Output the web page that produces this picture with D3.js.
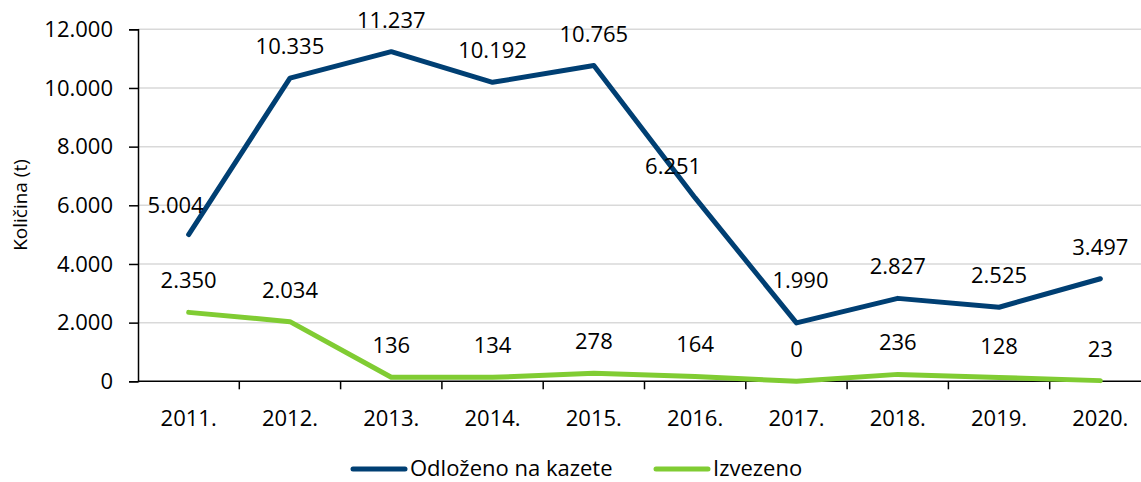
<!DOCTYPE html>
<html>
<head>
<meta charset="utf-8">
<script src="https://cdn.jsdelivr.net/npm/d3@7"></script>
<style>
  body { margin: 0; background: #fff; }
  svg { display: block; font-family: "Open Sans", "Noto Sans", sans-serif; }
</style>
</head>
<body>
<div id="chart"></div>
<script>
const years = ["2011.", "2012.", "2013.", "2014.", "2015.", "2016.", "2017.", "2018.", "2019.", "2020."];
const odlozeno = [5004, 10335, 11237, 10192, 10765, 6251, 1990, 2827, 2525, 3497];
const izvezeno = [2350, 2034, 136, 134, 278, 164, 0, 236, 128, 23];
const yTicks = [0, 2000, 4000, 6000, 8000, 10000, 12000];

function chart() {
    const width = 1141;
    const height = 482;
    const fs = 22;
    const fmt = v => d3.format(",")(v).replace(/,/g, ".");

    const x = d3.scaleBand().domain(years).range([138, 1151]);
    const y = d3.scaleLinear().domain([0, 12000]).range([381.3, 29.3]);

    const svg = d3.create("svg")
        .attr("width", width)
        .attr("height", height)
        .attr("viewBox", [0, 0, width, height]);

    // gridlines
    svg.append("g")
        .attr("stroke", "#d9d9d9")
        .attr("stroke-width", 1.5)
        .selectAll()
        .data(yTicks.slice(1))
        .join("line")
        .attr("x1", 138).attr("x2", 1151)
        .attr("y1", d => y(d)).attr("y2", d => y(d));

    // y axis
    const yAxis = svg.append("g")
        .attr("transform", "translate(138,0)")
        .call(d3.axisLeft(y).tickValues(yTicks).tickFormat(fmt).tickSize(9).tickPadding(16));
    yAxis.select(".domain").attr("stroke", "#000").attr("stroke-width", 1.5);
    yAxis.selectAll(".tick line").attr("stroke", "#000").attr("stroke-width", 1.5);
    yAxis.selectAll("text").attr("font-size", fs).attr("fill", "#000")
        .attr("font-family", "'Open Sans', sans-serif");

    // x axis with ticks at band boundaries
    const xAxis = svg.append("g").attr("transform", `translate(0,${y(0)})`);
    xAxis.append("line")
        .attr("x1", 138).attr("x2", 1151)
        .attr("stroke", "#000").attr("stroke-width", 1.5);
    xAxis.selectAll(".bt")
        .data(years.slice(1))
        .join("line")
        .attr("x1", d => x(d)).attr("x2", d => x(d))
        .attr("y1", 0).attr("y2", 8)
        .attr("stroke", "#000").attr("stroke-width", 1.5);
    xAxis.selectAll("text")
        .data(years)
        .join("text")
        .attr("x", d => x(d) + x.bandwidth() / 2)
        .attr("y", 45)
        .attr("text-anchor", "middle")
        .attr("font-size", fs)
        .text(d => d);

    // y title
    svg.append("text")
        .attr("transform", "translate(27,205) rotate(-90)")
        .attr("text-anchor", "middle")
        .attr("font-size", 19)
        .text("Količina (t)");

    const series = [
        {name: "Odloženo na kazete", values: odlozeno, color: "#003f73"},
        {name: "Izvezeno", values: izvezeno, color: "#80cc33"}
    ];
    // small manual nudges for labels moved in the original
    const nudge = {"Odloženo na kazete": {0: [-13, 2], 5: [-22, 0], 6: [4, -11]}};

    const line = d3.line()
        .x((d, i) => x(years[i]) + x.bandwidth() / 2)
        .y(d => y(d));

    for (const s of series) {
        svg.append("path")
            .attr("d", line(s.values))
            .attr("fill", "none")
            .attr("stroke", s.color)
            .attr("stroke-width", 5)
            .attr("stroke-linejoin", "round")
            .attr("stroke-linecap", "round");
    }

    for (const s of series) {
        const n = nudge[s.name] || {};
        svg.append("g")
            .selectAll("text")
            .data(s.values)
            .join("text")
            .attr("x", (d, i) => x(years[i]) + x.bandwidth() / 2 + (n[i] ? n[i][0] : 0))
            .attr("y", (d, i) => y(d) - 24 + (n[i] ? n[i][1] : 0))
            .attr("text-anchor", "middle")
            .attr("font-size", fs)
            .text(d => fmt(d));
    }

    // legend
    const legend = svg.append("g");
    const items = [{s: series[0], x0: 351}, {s: series[1], x0: 654}];
    for (const it of items) {
        legend.append("line")
            .attr("x1", it.x0 + 2).attr("x2", it.x0 + 54)
            .attr("y1", 469).attr("y2", 469)
            .attr("stroke", it.s.color)
            .attr("stroke-width", 5)
            .attr("stroke-linecap", "round");
        legend.append("text")
            .attr("x", it.x0 + 59)
            .attr("y", 476)
            .attr("font-size", fs)
            .text(it.s.name);
    }

    return svg.node();
}

document.getElementById("chart").appendChild(chart());
</script>
</body>
</html>
